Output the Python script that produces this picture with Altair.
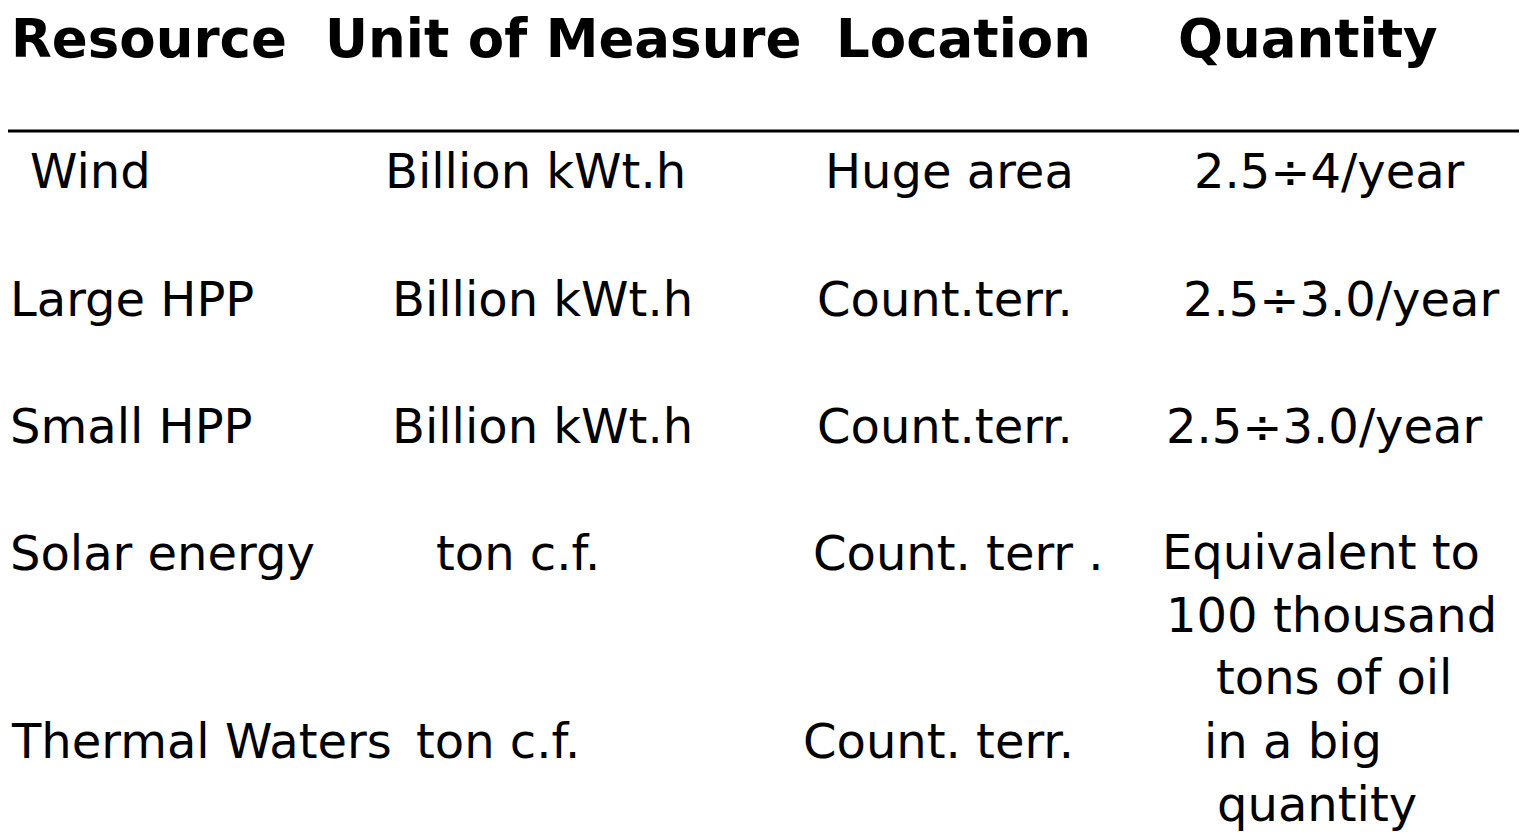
import altair as alt
import pandas as pd

# ---- table content ----
headers = ["Resource", "Unit of Measure", "Location", "Quantity"]
resources = ["Wind", "Large HPP", "Small HPP", "Solar energy", "Thermal Waters"]
units = ["Billion kWt.h", "Billion kWt.h", "Billion kWt.h", "ton c.f.", "ton c.f."]
locations = ["Huge area", "Count.terr.", "Count.terr.", "Count. terr .", "Count. terr."]
quantities = [
    ["2.5÷4/year"],
    ["2.5÷3.0/year"],
    ["2.5÷3.0/year"],
    ["Equivalent to", "100 thousand", "tons of oil"],
    ["in a big", "quantity"],
]

# ---- layout (page pixel positions; style only) ----
header_x = [11, 325, 836, 1178]
header_y = 57
row_y = [188, 316, 443, 570, 758]
line_step = 62.5
res_x = [30, 10, 10, 10, 12]
unit_x = [385, 392, 392, 436, 416]
loc_x = [825, 817, 817, 813, 803]
qty_x = [[1194], [1183], [1166], [1162, 1166, 1216], [1204, 1217]]
qty_y0 = [188, 316, 443, 569, 758]
rule_y = 131

W, H = 1511, 824
xs = alt.Scale(domain=[8, 8 + W], range=[0, W])
ys = alt.Scale(domain=[8, 8 + H], range=[0, H])

hdr = pd.DataFrame({"t": headers, "x": header_x, "y": [header_y] * 4})

rows = []
for i in range(len(resources)):
    rows.append({"t": resources[i], "x": res_x[i], "y": row_y[i]})
    rows.append({"t": units[i], "x": unit_x[i], "y": row_y[i]})
    rows.append({"t": locations[i], "x": loc_x[i], "y": row_y[i]})
    for j, q in enumerate(quantities[i]):
        rows.append({"t": q, "x": qty_x[i][j], "y": qty_y0[i] + j * line_step})
body = pd.DataFrame(rows)

rule_df = pd.DataFrame({"x": [8], "x2": [8 + W], "y": [rule_y]})

header_layer = alt.Chart(hdr).mark_text(
    font="DejaVu Sans", fontSize=53, fontWeight="bold", align="left",
    baseline="alphabetic", color="black"
).encode(
    x=alt.X("x:Q", scale=xs, axis=None),
    y=alt.Y("y:Q", scale=ys, axis=None),
    text="t:N",
)

body_layer = alt.Chart(body).mark_text(
    font="DejaVu Sans", fontSize=48, align="left",
    baseline="alphabetic", color="black"
).encode(
    x=alt.X("x:Q", scale=xs, axis=None),
    y=alt.Y("y:Q", scale=ys, axis=None),
    text="t:N",
)

rule_layer = alt.Chart(rule_df).mark_rule(color="black", strokeWidth=3).encode(
    x=alt.X("x:Q", scale=xs, axis=None),
    x2="x2:Q",
    y=alt.Y("y:Q", scale=ys, axis=None),
)

chart = alt.layer(rule_layer, header_layer, body_layer).properties(
    width=W, height=H, padding=0, autosize="none", background="white"
).configure_view(stroke=None)

chart.save("out.html", embed_options={"renderer": "svg", "actions": False})
